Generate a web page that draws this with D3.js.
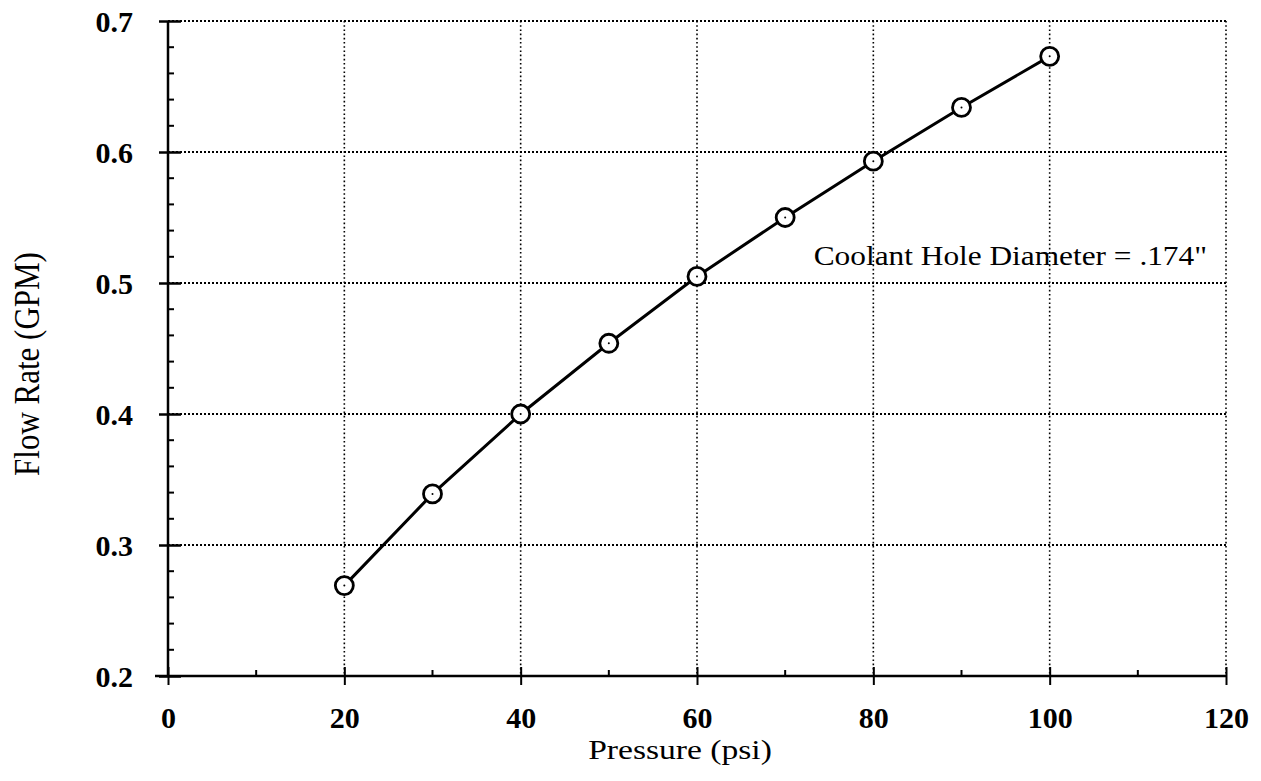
<!DOCTYPE html>
<html>
<head>
<meta charset="utf-8">
<script src="https://cdn.jsdelivr.net/npm/d3@7"></script>
<style>
  html, body { margin: 0; padding: 0; background: #fff; }
  svg { display: block; }
  text { font-family: "Liberation Serif", "Times New Roman", serif; fill: #000; }
</style>
</head>
<body>
<svg id="chart" width="1261" height="781"></svg>
<script>
// Flow rate measured against supply pressure
const pressure = [20, 30, 40, 50, 60, 70, 80, 90, 100];
const flowRate = [0.269, 0.339, 0.400, 0.454, 0.505, 0.550, 0.593, 0.634, 0.673];
const xTicks = [0, 20, 40, 60, 80, 100, 120];
const xMinorTicks = [10, 30, 50, 70, 90, 110];
const yTicks = [0.2, 0.3, 0.4, 0.5, 0.6, 0.7];
const yMinorTicks = [0.22, 0.24, 0.26, 0.28, 0.32, 0.34, 0.36, 0.38, 0.42, 0.44, 0.46, 0.48,
                     0.52, 0.54, 0.56, 0.58, 0.62, 0.64, 0.66, 0.68];
const xTitle = "Pressure (psi)";
const yTitle = "Flow Rate (GPM)";
const note = "Coolant Hole Diameter = .174\"";

const svg = d3.select("#chart");
const plotLeft = 168, plotRight = 1226, plotTop = 21, plotBottom = 676;
const WIDE = 1.14; // titles are set slightly wide

const x = d3.scaleLinear().domain([0, 120]).range([plotLeft, plotRight]);
const y = d3.scaleLinear().domain([0.2, 0.7]).range([plotBottom, plotTop]);

// dotted grid
const grid = svg.append("g");
grid.selectAll("line.h").data(yTicks.filter(d => d > 0.2)).join("line")
  .attr("x1", plotLeft).attr("x2", plotRight)
  .attr("y1", d => y(d)).attr("y2", d => y(d))
  .attr("stroke", "#000").attr("stroke-width", 2).attr("stroke-dasharray", "2,2");
grid.selectAll("line.v").data(xTicks.filter(d => d > 0)).join("line")
  .attr("y1", plotTop).attr("y2", plotBottom)
  .attr("x1", d => x(d)).attr("x2", d => x(d))
  .attr("stroke", "#000").attr("stroke-width", 1.6).attr("stroke-dasharray", "1.6,2.6");

// x axis: long crossing major ticks, short inward minor ticks
const xAxis = svg.append("g").attr("transform", `translate(0,${plotBottom})`)
  .call(d3.axisBottom(x).tickValues(xTicks).tickSize(9).tickSizeOuter(0).tickFormat(d3.format("d")));
xAxis.select(".domain").attr("d", `M${plotLeft - 13},0H${plotRight}`).attr("stroke-width", 2.5);
xAxis.selectAll(".tick line").attr("y1", -9).attr("stroke-width", 2);
xAxis.selectAll(".tick text")
  .attr("dy", 0).attr("y", 52)
  .attr("font-size", 30).attr("font-weight", "bold")
  .attr("font-family", "Liberation Serif");
svg.append("g").selectAll("line").data(xMinorTicks).join("line")
  .attr("x1", d => x(d)).attr("x2", d => x(d))
  .attr("y1", plotBottom).attr("y2", plotBottom - 6)
  .attr("stroke", "#000").attr("stroke-width", 2);

// y axis
const yAxis = svg.append("g").attr("transform", `translate(${plotLeft},0)`)
  .call(d3.axisLeft(y).tickValues(yTicks).tickSize(9).tickSizeOuter(0).tickFormat(d3.format(".1f")));
yAxis.select(".domain").attr("d", `M0,${plotTop}V${plotBottom}`).attr("stroke-width", 2.5);
yAxis.selectAll(".tick line").attr("x1", 13).attr("stroke-width", 2.5);
yAxis.selectAll(".tick text")
  .attr("x", -35).attr("dy", "0.36em")
  .attr("font-size", 30).attr("font-weight", "bold")
  .attr("font-family", "Liberation Serif");
svg.append("g").selectAll("line").data(yMinorTicks).join("line")
  .attr("x1", plotLeft).attr("x2", plotLeft + 6)
  .attr("y1", d => y(d)).attr("y2", d => y(d))
  .attr("stroke", "#000").attr("stroke-width", 2);

// data line and circle markers
const pts = pressure.map((p, i) => [p, flowRate[i]]);
svg.append("path").datum(pts)
  .attr("fill", "none").attr("stroke", "#000").attr("stroke-width", 3)
  .attr("d", d3.line().x(d => x(d[0])).y(d => y(d[1])));
const marks = svg.append("g").selectAll("g").data(pts).join("g")
  .attr("transform", d => `translate(${x(d[0])},${y(d[1])})`);
marks.append("circle").attr("r", 9).attr("fill", "#fff").attr("stroke", "#000").attr("stroke-width", 2.8);
marks.append("circle").attr("r", 1).attr("fill", "#000");

// titles and note
svg.append("text").attr("transform", `translate(680,759) scale(1.2,1)`)
  .attr("text-anchor", "middle").attr("font-size", 28).text(xTitle);
svg.append("text").attr("transform", `translate(39,364) rotate(-90) scale(1,${WIDE})`)
  .attr("text-anchor", "middle").attr("font-size", 31).text(yTitle);
svg.append("text").attr("transform", `translate(1207,265) scale(${WIDE},1)`)
  .attr("text-anchor", "end").attr("font-size", 27.5).text(note);
</script>
</body>
</html>
